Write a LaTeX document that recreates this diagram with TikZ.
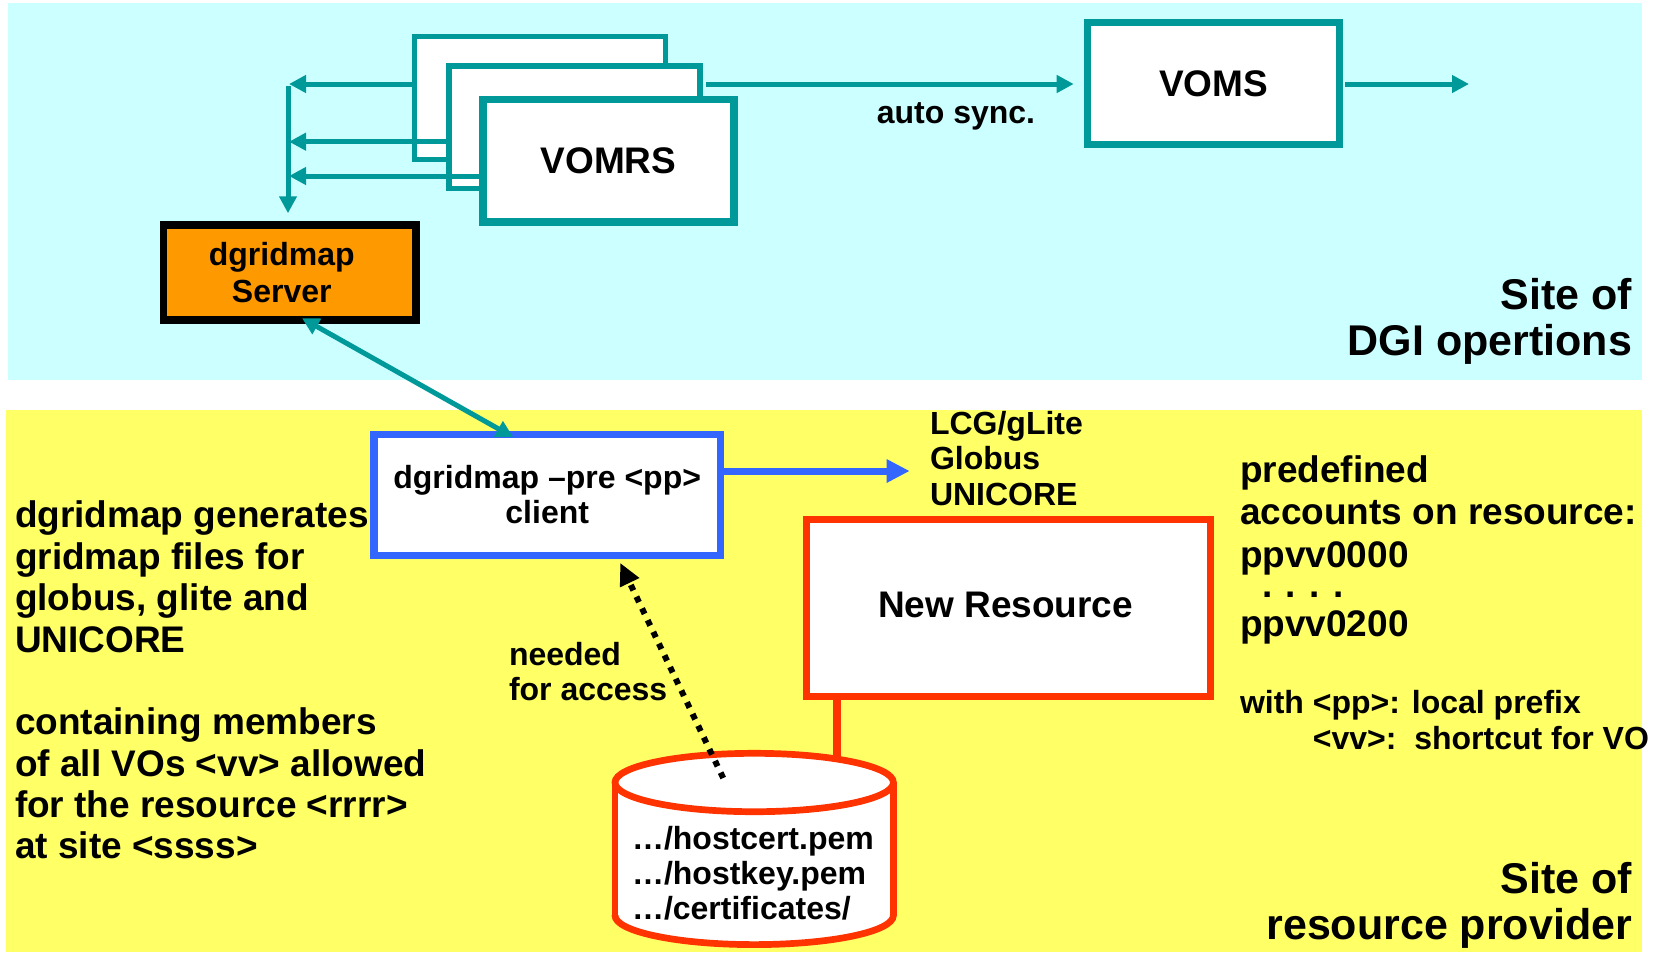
\documentclass[tikz,border=0pt]{standalone}
\usepackage{fontspec}
\setmainfont{Liberation Sans}
\usetikzlibrary{arrows.meta}
\definecolor{cyanbg}{HTML}{CCFFFF}
\definecolor{yellowbg}{HTML}{FFFF66}
\definecolor{tealc}{HTML}{009999}
\definecolor{orangec}{HTML}{FF9900}
\definecolor{bluec}{HTML}{3366FF}
\definecolor{redc}{HTML}{FF3300}
\begin{document}
\begin{tikzpicture}[x=0.5pt,y=-0.5pt,
  every node/.style={inner sep=0pt, outer sep=0pt},
  bigtxt/.style={font=\fontsize{18.5pt}{20.75pt}\selectfont\bfseries},
  midtxt/.style={font=\fontsize{16pt}{17.5pt}\selectfont\bfseries},
  sitetxt/.style={font=\fontsize{21.5pt}{23pt}\selectfont\bfseries},
  vbox/.style={draw=tealc, fill=white, line width=2.6pt, minimum width=125.5pt, minimum height=61.25pt},
  tarr/.style={draw=tealc, line width=2.5pt, -{Triangle[length=8.5pt,width=8.5pt]}},
  tarrboth/.style={draw=tealc, line width=2.5pt, {Triangle[length=8.5pt,width=8.5pt]}-{Triangle[length=8.5pt,width=8.5pt]}},
  barr/.style={draw=bluec, line width=3.5pt, -{Triangle[length=11.5pt,width=11pt]}},
  darr/.style={draw=black, line width=3pt, dash pattern=on 3pt off 3.5pt, -{Triangle[length=11pt,width=10pt]}},
  cylline/.style={draw=redc, line width=3.35pt}
]
\useasboundingbox (0,0) rectangle (1658,954);
% backgrounds
\fill[cyanbg] (8,3) rectangle (1642,380);
\fill[yellowbg] (6,410) rectangle (1642,952);

% VOMRS stack
\node[vbox] (vomrs1) at (540,98) {};
\node[vbox, line width=2.75pt] (vomrs2) at (574.5,127) {};
\node[vbox, line width=3.75pt, bigtxt] (vomrs3) at (608.5,160.5) {VOMRS};

% VOMS
\node[vbox, line width=3.5pt, minimum width=126pt, minimum height=61pt, bigtxt] (voms) at (1213.5,83.5) {VOMS};

% dgridmap server
\node[draw=black, fill=orangec, line width=3.85pt, minimum width=126.4pt, minimum height=47.65pt] (srv) at (289.75,272.5) {};
\node[midtxt, align=center, font=\fontsize{16pt}{18.85pt}\selectfont\bfseries] (srvtxt) at ([xshift=-4pt]srv.center) {dgridmap\\Server};

% client
\node[draw=bluec, fill=white, line width=3.65pt, minimum width=173.2pt, minimum height=60.35pt, midtxt, align=center] (cli) at (547.2,495) {dgridmap –pre <pp>\\client};

% new resource
\node[draw=redc, fill=white, line width=3.65pt, minimum width=202.1pt, minimum height=88.35pt] (newres) at (1008.25,608) {};
\node[bigtxt, anchor=base] (newrestxt) at (1005.5,617) {New Resource};

% arrows from VOMRS stack to the left
\coordinate (l1) at (289,84);
\coordinate (l2) at (289,141.7);
\coordinate (l3) at (289,176);
\coordinate (vtop) at (288,86);
\draw[tarr] (vomrs1.west |- l1) -- (l1);
\draw[tarr] (vomrs2.west |- l2) -- (l2);
\draw[tarr] (vomrs3.west |- l3) -- (l3);
\draw[tarr, shorten >=5.8pt] (vtop) -- (srv.north -| vtop);

% auto sync
\coordinate (sync) at (0,84);
\coordinate (vomsout) at (1469,84);
\draw[tarr, shorten <=3.2pt, shorten >=6.9pt] (vomrs2.east |- sync) -- (voms.west |- sync);
\node[midtxt, anchor=base] (synctxt) at (956,123) {auto sync.};
\draw[tarr, shorten <=2.95pt] (voms.east |- vomsout) -- (vomsout);

% server <-> client
\draw[tarrboth] ([shift={(12.25,-2)}]srv.south) -- ([shift={(-34,2.5)}]cli.north);

% client -> middleware
\coordinate (mw) at (909.7,471);
\draw[barr] (cli.east |- mw) -- (mw);
\node[midtxt, anchor=base west, align=left, font=\fontsize{16pt}{17.75pt}\selectfont\bfseries] (mwtxt) at (930,505) {LCG/gLite\\Globus\\UNICORE};

% cylinder (certificate store)
\coordinate (cyltop) at (754.2,782.5);
\coordinate (cylbot) at (754.2,915.4);
\draw[redc, line width=3.6pt] (newres.south -| 837,0) -- (837,775);
\fill[white] (615,782.5) rectangle (893.4,915.4);
\fill[white] (cylbot) ellipse [x radius=139.2, y radius=29.2];
\begin{scope}
  \clip (590,915.4) rectangle (920,970);
  \draw[cylline] (cylbot) ellipse [x radius=139.2, y radius=29.2];
\end{scope}
\draw[cylline] (615,782.5) -- (615,915.4);
\draw[cylline] (893.4,782.5) -- (893.4,915.4);
\draw[cylline, fill=white] (cyltop) ellipse [x radius=139.2, y radius=29.2];
\node[midtxt, anchor=base west, align=left] (store) at (632,919) {…/hostcert.pem\\…/hostkey.pem\\…/certificates/};

% dotted arrow
\draw[darr] ([shift={(-31,-4.5)}]cyltop) -- ([shift={(73,7.5)}]cli.south);
\node[midtxt, anchor=base west, align=left] (needed) at (509,700) {needed\\for access};

% left texts
\node[bigtxt, anchor=base west, align=left] (gen) at (15,652) {dgridmap generates\\gridmap files for\\globus, glite and\\UNICORE};
\node[bigtxt, anchor=base west, align=left, font=\fontsize{18.5pt}{20.6pt}\selectfont\bfseries] (cont) at (15,858.5) {containing members\\of all VOs <vv> allowed\\for the resource <rrrr>\\at site <ssss>};

% right texts
\node[bigtxt, anchor=base west, align=left, font=\fontsize{18.5pt}{21.25pt}\selectfont\bfseries] (acc) at (1240,636) {predefined\\accounts on resource:\\ppvv0000\\[-6.4pt]\hspace*{11pt}. . . .\\[-1.75pt]ppvv0200};
\node[midtxt, anchor=base west, align=left, font=\fontsize{16pt}{18pt}\selectfont\bfseries] (pref) at (1240,749) {with <pp>: local prefix\\\phantom{with }<vv>:\ \ shortcut for VO};

% site labels
\node[sitetxt, anchor=base east, align=right] (site1) at (1632,355) {Site of\\DGI opertions};
\node[sitetxt, anchor=base east, align=right] (site2) at (1632,939) {Site of\\resource provider};
\end{tikzpicture}
\end{document}
